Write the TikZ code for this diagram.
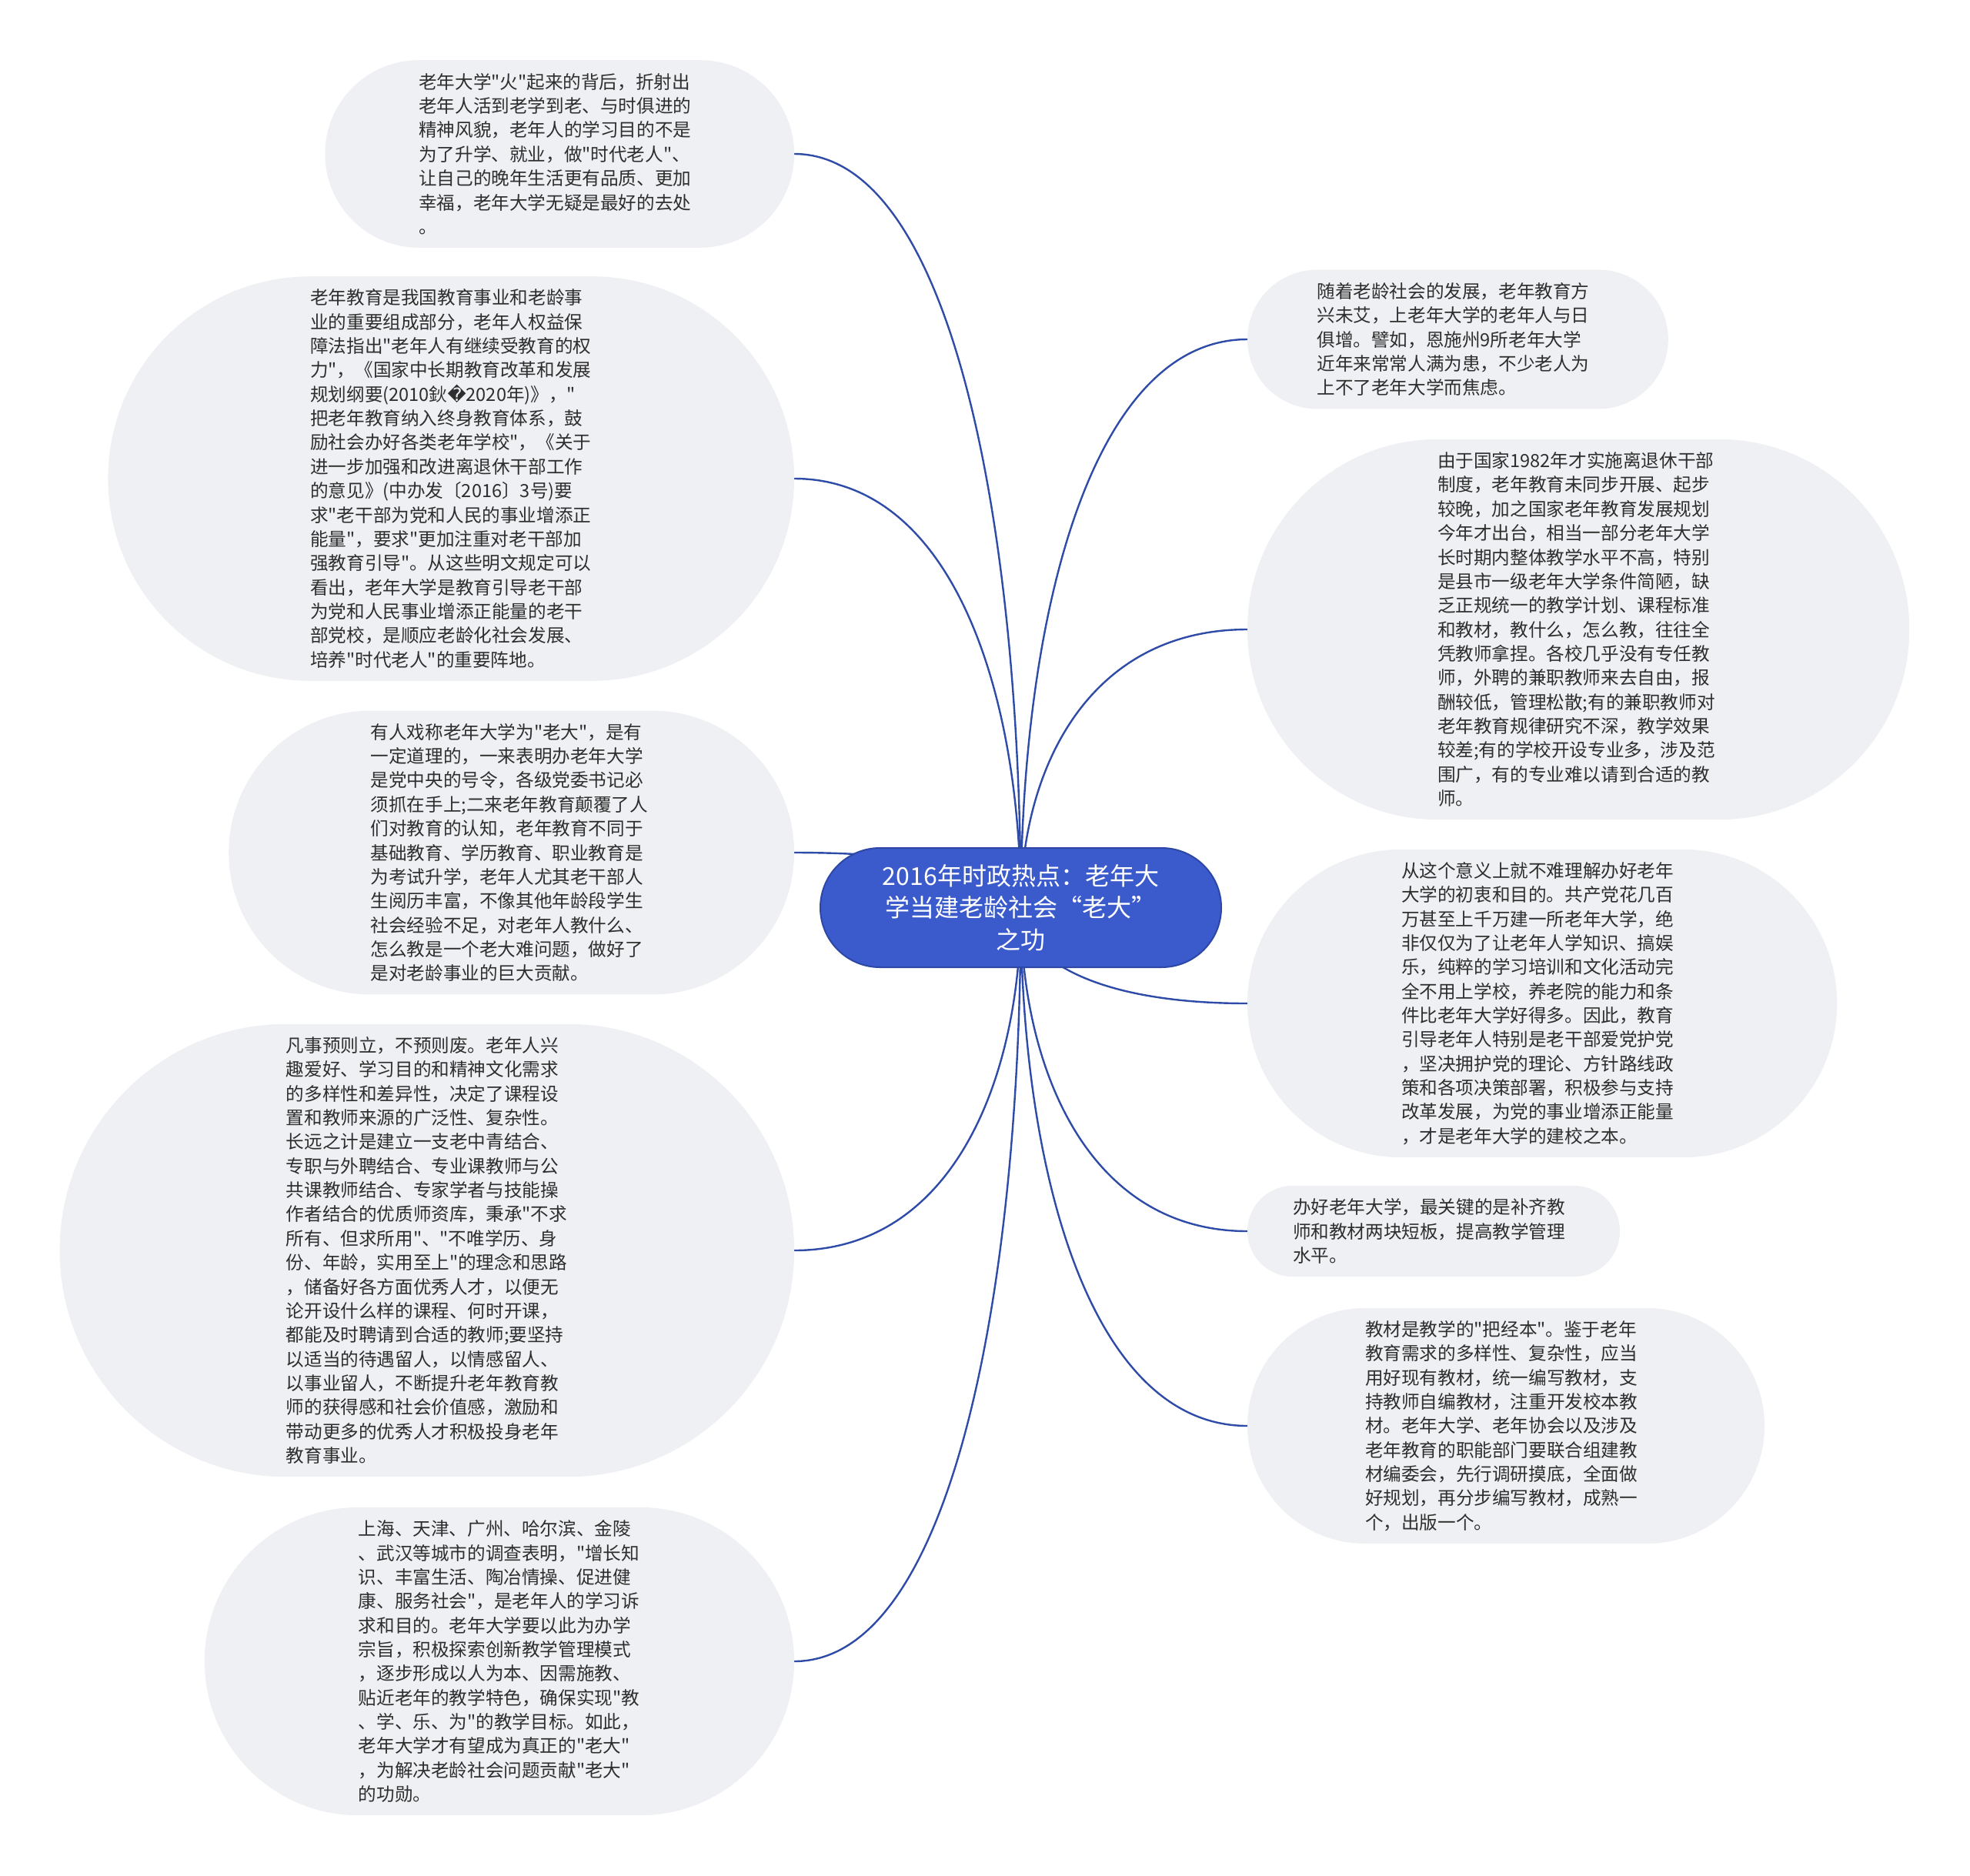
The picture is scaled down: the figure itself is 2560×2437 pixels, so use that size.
\documentclass[tikz,border=0pt]{standalone}
\usepackage{fontspec}
\newfontfamily\cjk{Noto Sans CJK SC}
\newfontfamily\dvs{DejaVu Sans}
\usetikzlibrary{calc}
\pgfdeclarelayer{bg}
\pgfsetlayers{bg,main}
\definecolor{leaffill}{HTML}{EEF0F3}
\definecolor{leaftext}{HTML}{2E2E2E}
\definecolor{linkblue}{HTML}{2E4BA8}
\definecolor{rootfill}{HTML}{3B5BCC}
\definecolor{rootdraw}{HTML}{2D47A6}
\begin{document}
\begin{tikzpicture}[x=0.5pt,y=-0.5pt,
  leaf/.style={rectangle, fill=leaffill, text=leaftext, text width=183pt,
    align=left, minimum height=2*#1, inner xsep=#1, inner ysep=5pt, outer sep=0pt,
    rounded corners=#1, font=\cjk\fontsize{11.8}{15.675}\selectfont},
  root/.style={rectangle, fill=rootfill, draw=rootdraw, line width=1pt,
    text=white, text width=183pt, align=center, inner xsep=38.75pt, inner ysep=5pt,
    outer sep=0pt, minimum height=77.5pt, rounded corners=38.75pt,
    font=\cjk\fontsize{16}{20.8}\selectfont},
  conn/.style={draw=linkblue, line width=1.2pt}]
\useasboundingbox (0,0) rectangle (2560,2437);

\node[root] (c) at (1326.5,1179.5) {2016年时政热点：老年大\\学当建老龄社会“老大”\\之功};

\node[leaf=60.9pt, anchor=east] (l1) at (1032,200) {%
老年大学"火"起来的背后，折射出\\
老年人活到老学到老、与时俱进的\\
精神风貌，老年人的学习目的不是\\
为了升学、就业，做"时代老人"、\\
让自己的晚年生活更有品质、更加\\
幸福，老年大学无疑是最好的去处\\
。};

\node[leaf=131.4pt, anchor=east] (l2) at (1032,622) {%
老年教育是我国教育事业和老龄事\\
业的重要组成部分，老年人权益保\\
障法指出"老年人有继续受教育的权\\
力"，《国家中长期教育改革和发展\\
规划纲要(2010鈥{\dvs\symbol{"FFFD}}2020年)》，"\\
把老年教育纳入终身教育体系，鼓\\
励社会办好各类老年学校"，《关于\\
进一步加强和改进离退休干部工作\\
的意见》(中办发〔2016〕3号)要\\
求"老干部为党和人民的事业增添正\\
能量"，要求"更加注重对老干部加\\
强教育引导"。从这些明文规定可以\\
看出，老年大学是教育引导老干部\\
为党和人民事业增添正能量的老干\\
部党校，是顺应老龄化社会发展、\\
培养"时代老人"的重要阵地。};

\node[leaf=92.2pt, anchor=east] (l3) at (1032,1108) {%
有人戏称老年大学为"老大"，是有\\
一定道理的，一来表明办老年大学\\
是党中央的号令，各级党委书记必\\
须抓在手上;二来老年教育颠覆了人\\
们对教育的认知，老年教育不同于\\
基础教育、学历教育、职业教育是\\
为考试升学，老年人尤其老干部人\\
生阅历丰富，不像其他年龄段学生\\
社会经验不足，对老年人教什么、\\
怎么教是一个老大难问题，做好了\\
是对老龄事业的巨大贡献。};

\node[leaf=147.1pt, anchor=east] (l4) at (1032,1625) {%
凡事预则立，不预则废。老年人兴\\
趣爱好、学习目的和精神文化需求\\
的多样性和差异性，决定了课程设\\
置和教师来源的广泛性、复杂性。\\
长远之计是建立一支老中青结合、\\
专职与外聘结合、专业课教师与公\\
共课教师结合、专家学者与技能操\\
作者结合的优质师资库，秉承"不求\\
所有、但求所用"、"不唯学历、身\\
份、年龄，实用至上"的理念和思路\\
，储备好各方面优秀人才，以便无\\
论开设什么样的课程、何时开课，\\
都能及时聘请到合适的教师;要坚持\\
以适当的待遇留人，以情感留人、\\
以事业留人，不断提升老年教育教\\
师的获得感和社会价值感，激励和\\
带动更多的优秀人才积极投身老年\\
教育事业。};

\node[leaf=100.05pt, anchor=east] (l5) at (1032,2159) {%
上海、天津、广州、哈尔滨、金陵\\
、武汉等城市的调查表明，"增长知\\
识、丰富生活、陶冶情操、促进健\\
康、服务社会"，是老年人的学习诉\\
求和目的。老年大学要以此为办学\\
宗旨，积极探索创新教学管理模式\\
，逐步形成以人为本、因需施教、\\
贴近老年的教学特色，确保实现"教\\
、学、乐、为"的教学目标。如此，\\
老年大学才有望成为真正的"老大"\\
，为解决老龄社会问题贡献"老大"\\
的功勋。};

\node[leaf=45.2pt, anchor=west] (r1) at (1621,441) {%
随着老龄社会的发展，老年教育方\\
兴未艾，上老年大学的老年人与日\\
俱增。譬如，恩施州9所老年大学\\
近年来常常人满为患，不少老人为\\
上不了老年大学而焦虑。};

\node[leaf=123.55pt, anchor=west] (r2) at (1621,818) {%
由于国家1982年才实施离退休干部\\
制度，老年教育未同步开展、起步\\
较晚，加之国家老年教育发展规划\\
今年才出台，相当一部分老年大学\\
长时期内整体教学水平不高，特别\\
是县市一级老年大学条件简陋，缺\\
乏正规统一的教学计划、课程标准\\
和教材，教什么，怎么教，往往全\\
凭教师拿捏。各校几乎没有专任教\\
师，外聘的兼职教师来去自由，报\\
酬较低，管理松散;有的兼职教师对\\
老年教育规律研究不深，教学效果\\
较差;有的学校开设专业多，涉及范\\
围广，有的专业难以请到合适的教\\
师。};

\node[leaf=100.05pt, anchor=west] (r3) at (1621,1304) {%
从这个意义上就不难理解办好老年\\
大学的初衷和目的。共产党花几百\\
万甚至上千万建一所老年大学，绝\\
非仅仅为了让老年人学知识、搞娱\\
乐，纯粹的学习培训和文化活动完\\
全不用上学校，养老院的能力和条\\
件比老年大学好得多。因此，教育\\
引导老年人特别是老干部爱党护党\\
，坚决拥护党的理论、方针路线政\\
策和各项决策部署，积极参与支持\\
改革发展，为党的事业增添正能量\\
，才是老年大学的建校之本。};

\node[leaf=29.5pt, anchor=west] (r4) at (1621,1600) {%
办好老年大学，最关键的是补齐教\\
师和教材两块短板，提高教学管理\\
水平。};

\node[leaf=76.5pt, anchor=west] (r5) at (1621,1853) {%
教材是教学的"把经本"。鉴于老年\\
教育需求的多样性、复杂性，应当\\
用好现有教材，统一编写教材，支\\
持教师自编教材，注重开发校本教\\
材。老年大学、老年协会以及涉及\\
老年教育的职能部门要联合组建教\\
材编委会，先行调研摸底，全面做\\
好规划，再分步编写教材，成熟一\\
个，出版一个。};

\begin{pgfonlayer}{bg}
\fill[white] (0,0) rectangle (2560,2437);
\foreach \n/\a in {l1/east,l2/east,l3/east,l4/east,l5/east,r1/west,r2/west,r3/west,r4/west,r5/west}{
  \draw[conn] (c.center) .. controls ($(c.center)!0.5!(c.center|-\n.\a)$) and ($(\n.\a)!0.7!(c.center|-\n.\a)$) .. (\n.\a);
}
\end{pgfonlayer}
\end{tikzpicture}
\end{document}
